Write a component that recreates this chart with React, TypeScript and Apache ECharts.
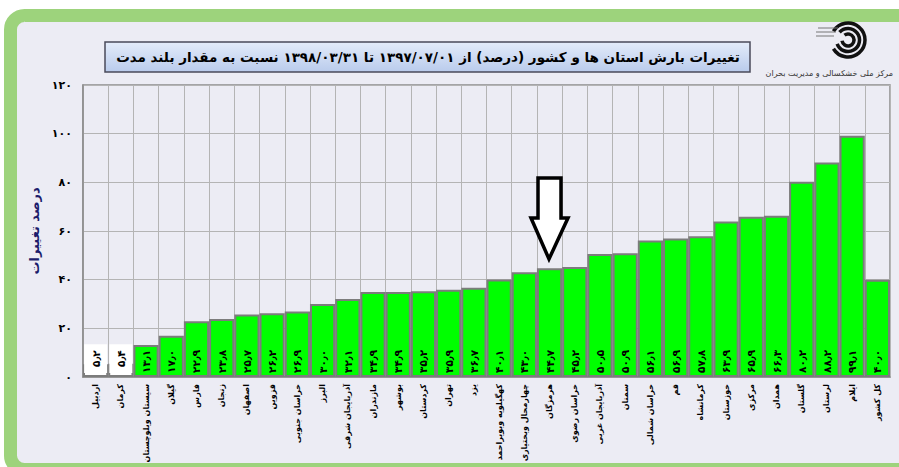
import React, { useEffect, useRef } from "react";
import * as echarts from "echarts";

const categories = [
  "اردبیل", "کرمان", "سیستان وبلوچستان", "گیلان", "فارس", "زنجان", "اصفهان", "قزوین",
  "خراسان جنوبی", "البرز", "آذربایجان شرقی", "مازندران", "بوشهر", "کردستان", "تهران", "یزد",
  "کهگیلویه وبویراحمد", "چهارمحال وبختیاری", "هرمزگان", "خراسان رضوی", "آذربایجان غربی", "سمنان",
  "خراسان شمالی", "قم", "کرمانشاه", "خوزستان", "مرکزی", "همدان", "گلستان", "لرستان", "ایلام", "کل کشور",
];
const values = [
  5.2, 5.4, 13.1, 17.0, 22.9, 23.8, 25.7, 26.2, 26.9, 30.0, 32.1, 34.9, 34.9, 35.2, 35.9, 36.7,
  40.1, 43.0, 44.7, 45.2, 50.5, 50.9, 56.1, 56.9, 57.8, 63.9, 65.9, 66.3, 80.2, 88.2, 99.1, 40.0,
];
const whiteBars = ["اردبیل", "کرمان"];
const title = "تغییرات بارش استان ها و کشور (درصد) از ۱۳۹۷/۰۷/۰۱ تا ۱۳۹۸/۰۳/۳۱ نسبت به مقدار بلند مدت";
const yName = "درصد تغییرات";
const orgName = "مرکز ملی خشکسالی و مدیریت بحران";

const faDigits = "۰۱۲۳۴۵۶۷۸۹";
const toFa = (s: string) => s.replace(/[0-9]/g, (d) => faDigits[Number(d)]).replace(/\./g, "٫");

const FONT = "Tahoma, 'DejaVu Sans', sans-serif";

export default function App() {
  const ref = useRef<HTMLDivElement>(null);
  useEffect(() => {
    if (!ref.current) return;
    const chart = echarts.init(ref.current, null, { renderer: "svg" });
    const option: any = {
      animation: false,
      backgroundColor: "#ffffff",
      graphic: [
        {
          type: "rect",
          z: -10,
          shape: { x: 10.5, y: 15.5, width: 1000, height: 454, r: 14 },
          style: { fill: "#ececf4", stroke: "#9dd37c", lineWidth: 13 },
        },
        {
          type: "rect",
          shape: { x: 105, y: 42, width: 645, height: 30 },
          style: {
            fill: new echarts.graphic.LinearGradient(0, 0, 0, 1, [
              { offset: 0, color: "#e4ecfa" },
              { offset: 1, color: "#b9cbec" },
            ]),
            stroke: "#4a4a5a",
            lineWidth: 1.5,
          },
        },
        {
          type: "text",
          x: 428,
          y: 57,
          style: {
            text: title,
            font: `bold 13.5px ${FONT}`,
            fill: "#000",
            align: "center",
            verticalAlign: "middle",
          },
        },
        // logo
        { type: "arc", shape: { cx: 848, cy: 40, r: 17, startAngle: -2.6, endAngle: 2.6 }, style: { stroke: "#111", lineWidth: 3.5, fill: "none" } },
        { type: "arc", shape: { cx: 848, cy: 40, r: 11.5, startAngle: -2.4, endAngle: 2.8 }, style: { stroke: "#111", lineWidth: 3.5, fill: "none" } },
        { type: "arc", shape: { cx: 848, cy: 40, r: 6, startAngle: -2.2, endAngle: 3.0 }, style: { stroke: "#111", lineWidth: 3.5, fill: "none" } },
        { type: "line", shape: { x1: 818, y1: 28, x2: 838, y2: 28 }, style: { stroke: "#777", lineWidth: 1 } },
        { type: "line", shape: { x1: 816, y1: 32, x2: 836, y2: 32 }, style: { stroke: "#777", lineWidth: 1 } },
        { type: "line", shape: { x1: 816, y1: 36, x2: 834, y2: 36 }, style: { stroke: "#777", lineWidth: 1 } },
        {
          type: "text",
          x: 893,
          y: 73,
          style: { text: orgName, font: `8px ${FONT}`, fill: "#333", align: "right", verticalAlign: "middle" },
        },
        // arrow annotation
        {
          type: "polygon",
          z: 100,
          shape: {
            points: [
              [538, 178], [561, 178], [561, 218], [568, 218], [549, 259], [531, 218], [538, 218],
            ],
          },
          style: { fill: "#ffffff", stroke: "#000", lineWidth: 3.5, lineJoin: "miter" },
        },
      ],
      grid: {
        left: 83,
        right: 9,
        top: 85,
        bottom: 90,
        containLabel: false,
        outerBoundsMode: "none",
        show: true,
        borderColor: "#8c8c8c",
        borderWidth: 1.5,
        backgroundColor: "transparent",
      },
      xAxis: {
        type: "category",
        data: categories,
        axisLine: { lineStyle: { color: "#8c8c8c", width: 1.5 } },
        axisTick: { show: false },
        splitLine: { show: true, lineStyle: { color: "#b4b4b4", width: 1 } },
        axisLabel: {
          interval: 0,
          rotate: 90,
          margin: 7,
          fontSize: 8,
          fontWeight: "bold",
          fontFamily: FONT,
          color: "#000",
        },
      },
      yAxis: {
        type: "value",
        min: 0,
        max: 120,
        interval: 20,
        name: yName,
        nameLocation: "middle",
        nameGap: 42,
        nameRotate: 90,
        nameTextStyle: { fontSize: 13, fontWeight: "bold", color: "#1c1c6b", fontFamily: FONT },
        axisLine: { show: true, lineStyle: { color: "#8c8c8c", width: 1.5 } },
        axisTick: { show: false },
        splitLine: { lineStyle: { color: "#b4b4b4", width: 1 } },
        axisLabel: {
          margin: 11,
          fontSize: 11,
          fontWeight: "bold",
          fontFamily: FONT,
          color: "#000",
          formatter: (v: number) => toFa(String(v)),
        },
      },
      series: [
        {
          type: "bar",
          barCategoryGap: "0%",
          data: values.map((v, i) =>
            whiteBars.includes(categories[i])
              ? {
                  value: v,
                  itemStyle: { color: "#ffffff" },
                  label: { backgroundColor: "#ffffff", padding: [6, 6] },
                }
              : v
          ),
          itemStyle: { color: "#00ff00", borderColor: "#7c7c7c", borderWidth: 2 },
          label: {
            show: true,
            position: "insideBottom",
            rotate: 90,
            align: "left",
            verticalAlign: "middle",
            distance: 4,
            fontSize: 10.5,
            fontWeight: "bold",
            fontFamily: FONT,
            color: "#000",
            formatter: (p: any) => toFa(Number(p.value).toFixed(1)),
          },
        },
      ],
    };
    chart.setOption(option);
    return () => chart.dispose();
  }, []);
  return (
    <div
      ref={ref}
      style={{ width: 899, height: 467, position: "fixed", left: 0, top: 0 }}
    />
  );
}
